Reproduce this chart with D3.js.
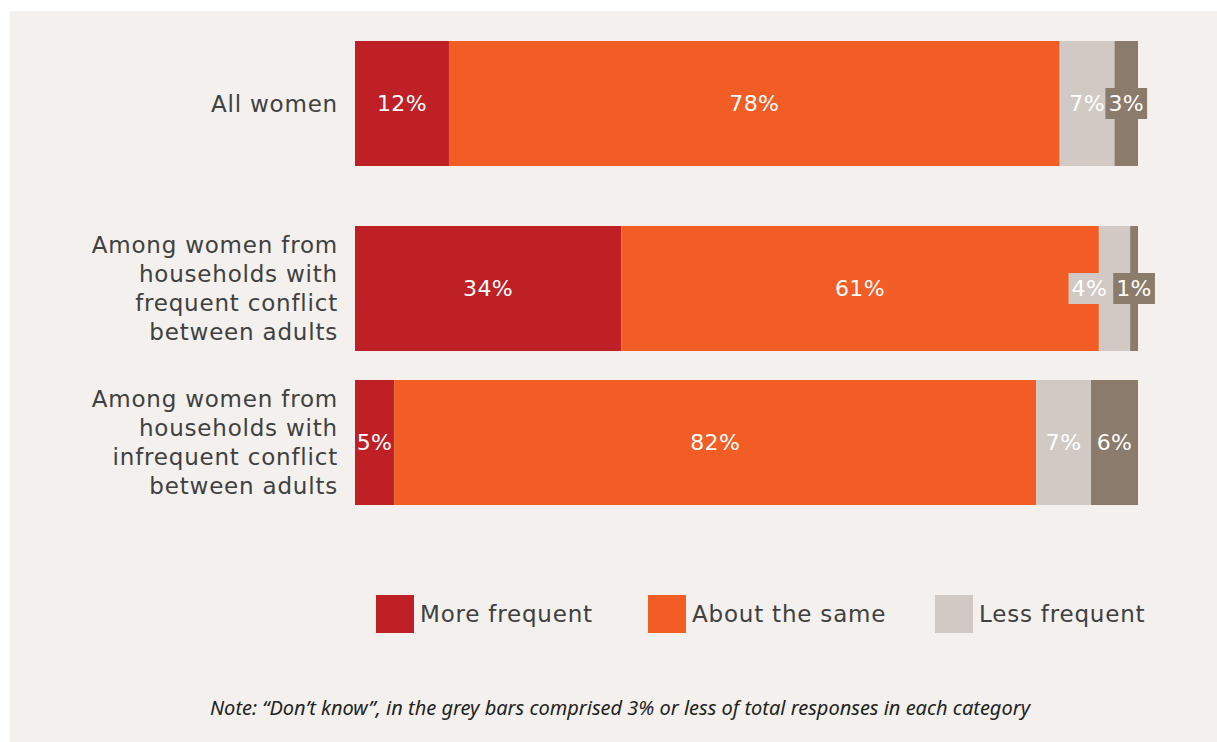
<!DOCTYPE html>
<html>
<head>
<meta charset="utf-8">
<script src="https://cdn.jsdelivr.net/npm/d3@7"></script>
<style>
  body { margin: 0; background: #fff; }
  svg { display: block; }
</style>
</head>
<body>
<svg id="chart"></svg>
<script>
// Data
const categories = [
  "All women",
  "Among women from households with frequent conflict between adults",
  "Among women from households with infrequent conflict between adults"
];
const categoryLines = [
  ["All women"],
  ["Among women from", "households with", "frequent conflict", "between adults"],
  ["Among women from", "households with", "infrequent conflict", "between adults"]
];
const seriesNames = ["More frequent", "About the same", "Less frequent", "Don't know"];
const moreFrequent = [12, 34, 5];
const aboutSame = [78, 61, 82];
const lessFrequent = [7, 4, 7];
const dontKnow = [3, 1, 6];
const legendNames = ["More frequent", "About the same", "Less frequent"];
const note = "Note: \u201cDon\u2019t know\u201d, in the grey bars comprised 3% or less of total responses in each category";

const colors = ["#be2026", "#f15d24", "#d1cac4", "#8a7b6a"];
const textColor = "#404040";
const font = "'DejaVu Sans', sans-serif";

const W = 1217, H = 742;
const svg = d3.select("#chart").attr("width", W).attr("height", H);

// panel
svg.append("rect").attr("x", 10).attr("y", 11).attr("width", W - 10).attr("height", H - 11)
  .attr("fill", "#f3f0ed");

const table = categories.map((c, i) => ({
  cat: c,
  values: [moreFrequent[i], aboutSame[i], lessFrequent[i], dontKnow[i]]
}));

const x = d3.scaleLinear().domain([0, 100]).range([355, 1138]);
const y = d3.scaleOrdinal().domain(categories).range([41, 226, 380]);
const barH = 125;

const stack = d3.stack().keys(d3.range(4)).value((d, k) => d.values[k]);
const layers = stack(table);

const g = svg.append("g");

layers.forEach((layer, k) => {
  g.selectAll(".seg" + k)
    .data(layer)
    .join("rect")
    .attr("x", d => x(d[0]))
    .attr("y", d => y(d.data.cat))
    .attr("width", d => x(d[1]) - x(d[0]))
    .attr("height", barH)
    .attr("fill", colors[k]);
});

// value labels
const labelSize = 22;
const labelSpacing = 0.4;
table.forEach((row, i) => {
  const y0 = y(row.cat) + barH / 2;
  const items = layers.map((layer, k) => {
    const d = layer[i];
    return { k, v: d.data.values[k], x0: x(d[0]), x1: x(d[1]), cx: (x(d[0]) + x(d[1])) / 2 };
  });
  // measure
  const temp = g.append("text").attr("font-family", font).attr("font-size", labelSize)
    .attr("letter-spacing", labelSpacing);
  items.forEach(it => {
    temp.text(it.v + "%");
    it.w = temp.node().getComputedTextLength();
    it.boxed = it.w > (it.x1 - it.x0);
    it.bw = it.w + 6;
  });
  temp.remove();
  // resolve overlaps of boxed labels from the right
  for (let j = items.length - 2; j >= 0; j--) {
    const a = items[j], b = items[j + 1];
    if (a.boxed && b.boxed) {
      const aRight = a.cx + a.bw / 2;
      const bLeft = b.cx - b.bw / 2;
      if (aRight > bLeft - 3) a.cx = bLeft - 3 - a.bw / 2;
    }
  }
  items.forEach(it => {
    if (it.boxed) {
      g.append("rect")
        .attr("x", it.cx - it.bw / 2).attr("y", y0 - 15.5)
        .attr("width", it.bw).attr("height", 31)
        .attr("fill", colors[it.k]);
    }
    g.append("text")
      .attr("x", it.cx).attr("y", y0)
      .attr("dy", "0.36em")
      .attr("text-anchor", "middle")
      .attr("font-family", font).attr("font-size", labelSize)
      .attr("letter-spacing", labelSpacing)
      .attr("fill", "#fff")
      .text(it.v + "%");
  });
});

// category labels
const lineH = 29;
categories.forEach((c, i) => {
  const lines = categoryLines[i];
  const cy = y(c) + barH / 2;
  const t = g.append("text")
    .attr("text-anchor", "end")
    .attr("font-family", font).attr("font-size", 23)
    .attr("letter-spacing", 0.8)
    .attr("fill", textColor);
  lines.forEach((ln, j) => {
    t.append("tspan")
      .attr("x", 338)
      .attr("y", cy + (j - (lines.length - 1) / 2) * lineH)
      .attr("dy", "0.36em")
      .text(ln);
  });
});

// legend
const legendX = [376, 648, 935];
const legend = svg.append("g");
legendNames.forEach((n, i) => {
  legend.append("rect").attr("x", legendX[i]).attr("y", 595).attr("width", 38).attr("height", 38)
    .attr("fill", colors[i]);
  legend.append("text").attr("x", legendX[i] + 44).attr("y", 614).attr("dy", "0.36em")
    .attr("font-family", font).attr("font-size", 23).attr("letter-spacing", 0.8)
    .attr("fill", textColor)
    .text(n);
});

// note
svg.append("text")
  .attr("x", 620).attr("y", 708).attr("dy", "0.36em")
  .attr("text-anchor", "middle")
  .attr("font-family", "'Noto Sans', sans-serif").attr("font-style", "italic")
  .attr("font-size", 20).attr("fill", "#222")
  .text(note);
</script>
</body>
</html>
